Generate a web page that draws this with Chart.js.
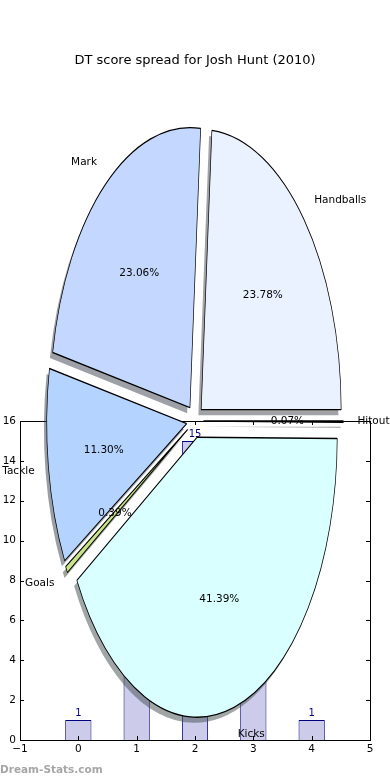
<!DOCTYPE html>
<html>
<head>
<meta charset="utf-8">
<script src="https://cdn.jsdelivr.net/npm/chart.js@4"></script>
<style>
  body { margin: 0; background: #fff; }
  #wrap { position: relative; width: 390px; height: 780px; }
  #wrap canvas { position: absolute; left: 0; top: 0; }
  #pieCanvas { pointer-events: none; }
</style>
</head>
<body>
<div id="wrap">
  <canvas id="barCanvas" width="390" height="780"></canvas>
  <canvas id="pieCanvas" width="390" height="780"></canvas>
</div>
<script>
// datos del grafico
const titulo = "DT score spread for Josh Hunt (2010)";
const pieLabels = ["Handballs", "Mark", "Tackle", "Goals", "Kicks", "Hitout"];
const piePercents = [23.78, 23.06, 11.30, 0.39, 41.39, 0.07];
const pieColors = ["#eaf1ff", "#c4d8ff", "#b4d4ff", "#c8e38a", "#d9ffff", "#d0d0d0"];

const barX = [0, 1, 2, 3, 4];
const barValues = [1, 6, 15, 4, 1];
const xTicks = [-1, 0, 1, 2, 3, 4, 5];
const yTicks = [0, 2, 4, 6, 8, 10, 12, 14, 16];

const FONT = "DejaVu Sans";
const EXPLODE = 0.06;     // fraccion del radio
const Y_STRETCH = 2;      // la torta es eliptica
const SHADOW_DX = -2.8, SHADOW_DY = 5.6;

Chart.defaults.font.family = FONT;
Chart.defaults.font.size = 10.5;
Chart.defaults.color = "#000";

function minus(v) {
    return v < 0 ? "\u2212" + Math.abs(v) : String(v);
}

// marco y ticks hacia adentro, como matplotlib
const marcoPlugin = {
    id: "marco",
    afterDraw(chart) {
        const { ctx, chartArea: a, scales } = chart;
        ctx.save();
        ctx.strokeStyle = "#000";
        ctx.lineWidth = 1;
        ctx.strokeRect(a.left + 0.5, a.top + 0.5, a.right - a.left, a.bottom - a.top);
        ctx.beginPath();
        xTicks.forEach(v => {
            const px = Math.round(scales.x.getPixelForValue(v)) + 0.5;
            ctx.moveTo(px, a.bottom); ctx.lineTo(px, a.bottom - 4);
            ctx.moveTo(px, a.top); ctx.lineTo(px, a.top + 4);
        });
        yTicks.forEach(v => {
            const py = Math.round(scales.y.getPixelForValue(v)) + 0.5;
            ctx.moveTo(a.left, py); ctx.lineTo(a.left + 4, py);
            ctx.moveTo(a.right, py); ctx.lineTo(a.right - 4, py);
        });
        ctx.stroke();

        // valores arriba de las barras
        const meta = chart.getDatasetMeta(0);
        ctx.fillStyle = "#000080";
        ctx.font = "10px " + FONT;
        ctx.textAlign = "center";
        ctx.textBaseline = "bottom";
        meta.data.forEach((bar, i) => {
            ctx.fillText(String(barValues[i]), bar.x, bar.y - 2);
        });

        ctx.fillStyle = "#a6a6a6";
        ctx.font = "bold 10.5px " + FONT;
        ctx.textAlign = "left";
        ctx.textBaseline = "middle";
        ctx.fillText("Dream-Stats.com", 0, 770);
        ctx.restore();
    }
};

new Chart(document.getElementById("barCanvas"), {
    type: "bar",
    data: {
        datasets: [{
            data: barX.map((x, i) => ({ x: x, y: barValues[i] })),
            backgroundColor: "#ccccea",
            borderColor: "#000080",
            borderWidth: 1,
            barPercentage: 0.45,
            categoryPercentage: 1
        }]
    },
    options: {
        responsive: false,
        animation: false,
        events: [],
        layout: { padding: 0 },
        plugins: {
            legend: { display: false },
            tooltip: { enabled: false },
            title: {
                display: true,
                text: titulo,
                color: "#000",
                font: { size: 13, weight: "normal" },
                padding: { top: 53, bottom: 352.4 }
            }
        },
        scales: {
            x: {
                type: "linear",
                min: -1, max: 5,
                offset: false,
                afterBuildTicks: s => { s.ticks = xTicks.map(v => ({ value: v })); },
                afterFit: s => { s.height = 40; },
                grid: { display: false, drawTicks: false },
                border: { display: false },
                ticks: { padding: 3, maxRotation: 0, autoSkip: false, callback: v => minus(v) }
            },
            y: {
                min: 0, max: 16,
                afterBuildTicks: s => { s.ticks = yTicks.map(v => ({ value: v })); },
                afterFit: s => { s.width = 20; },
                grid: { display: false, drawTicks: false },
                border: { display: false },
                ticks: { padding: 4, autoSkip: false, callback: v => minus(v) }
            },
            // eje vacio a la derecha, solo reserva el margen
            yDer: {
                position: "right",
                min: 0, max: 16,
                afterFit: s => { s.width = 20; },
                grid: { display: false, drawTicks: false },
                border: { display: false },
                ticks: { display: false }
            }
        }
    },
    plugins: [marcoPlugin]
});

// cada porcion se separa del centro (explode)
const arcDrawBase = Chart.ArcElement.prototype.draw;
Chart.ArcElement.prototype.draw = function (ctx) {
    const mid = (this.startAngle + this.endAngle) / 2;
    const d = EXPLODE * this.outerRadius;
    ctx.save();
    ctx.translate(Math.cos(mid) * d, Math.sin(mid) * d);
    arcDrawBase.call(this, ctx);
    ctx.restore();
};

function sombra(hex) {
    const n = parseInt(hex.slice(1), 16);
    const r = Math.round(((n >> 16) & 255) * 0.3);
    const g = Math.round(((n >> 8) & 255) * 0.3);
    const b = Math.round((n & 255) * 0.3);
    return `rgba(${r},${g},${b},0.5)`;
}

const elipsePlugin = {
    id: "elipse",
    beforeDatasetsDraw(chart) {
        const ctx = chart.ctx;
        const meta = chart.getDatasetMeta(0);
        const cx = meta.data[0].x, cy = meta.data[0].y;
        ctx.save();
        ctx.translate(cx, cy);
        ctx.scale(1, Y_STRETCH);
        ctx.translate(-cx, -cy);
        const colores = chart.data.datasets[0].backgroundColor;
        meta.data.forEach((arc, i) => {
            const mid = (arc.startAngle + arc.endAngle) / 2;
            const d = EXPLODE * arc.outerRadius;
            const ox = arc.x + Math.cos(mid) * d + SHADOW_DX;
            const oy = arc.y + Math.sin(mid) * d + SHADOW_DY / Y_STRETCH;
            ctx.beginPath();
            ctx.moveTo(ox, oy);
            ctx.arc(ox, oy, arc.outerRadius, arc.startAngle, arc.endAngle);
            ctx.closePath();
            ctx.fillStyle = sombra(colores[i]);
            ctx.fill();
        });
    },
    afterDatasetsDraw(chart) {
        chart.ctx.restore();
    },
    afterDraw(chart) {
        const ctx = chart.ctx;
        const meta = chart.getDatasetMeta(0);
        const labels = chart.data.labels;
        const valores = chart.data.datasets[0].data;
        ctx.save();
        ctx.fillStyle = "#000";
        ctx.font = "10.5px " + FONT;
        ctx.textBaseline = "middle";
        meta.data.forEach((arc, i) => {
            const mid = (arc.startAngle + arc.endAngle) / 2;
            const c = Math.cos(mid), s = Math.sin(mid);
            const r = arc.outerRadius;
            const k1 = EXPLODE + 1.1, k2 = EXPLODE + 0.6;
            ctx.textAlign = c > 0 ? "left" : "right";
            ctx.fillText(labels[i], arc.x + c * r * k1, arc.y + s * r * k1 * Y_STRETCH);
            ctx.textAlign = "center";
            ctx.fillText(valores[i].toFixed(2) + "%", arc.x + c * r * k2, arc.y + s * r * k2 * Y_STRETCH);
        });
        ctx.restore();
    }
};

// matplotlib gira antihorario desde el este; chart.js horario, por eso se invierte
new Chart(document.getElementById("pieCanvas"), {
    type: "pie",
    data: {
        labels: pieLabels.slice().reverse(),
        datasets: [{
            data: piePercents.slice().reverse(),
            backgroundColor: pieColors.slice().reverse(),
            borderColor: "#000",
            borderWidth: 0.7
        }]
    },
    options: {
        responsive: false,
        animation: false,
        events: [],
        rotation: 90,
        radius: 140,
        layout: { padding: { top: 62, right: 0, bottom: 0, left: 0 } },
        plugins: {
            legend: { display: false },
            tooltip: { enabled: false },
            title: { display: false }
        }
    },
    plugins: [elipsePlugin]
});
</script>
</body>
</html>
